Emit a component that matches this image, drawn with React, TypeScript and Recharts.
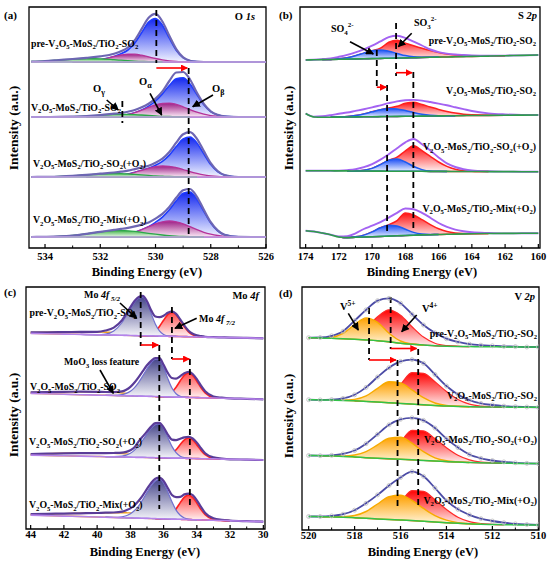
import React from 'react'
import { ComposedChart, Area, Line, XAxis, YAxis, ReferenceLine, ReferenceArea } from 'recharts'

const serif = '"Liberation Serif", "Times New Roman", serif'

// heights are in plot pixels above each spectrum's baseline

// (a) O 1s
const aX = [534.5, 534, 533.5, 533, 532.5, 532, 531.5, 531.25, 531, 530.75, 530.5, 530.25, 530, 529.75, 529.5, 529.25, 529, 528.75, 528.5, 528.25, 528, 527.75, 527.5, 527, 526.5, 526]
const aBase = [186, 131, 71, 11]
const aBlue = [
  [0, 0, 0, 0, 0.6, 2.3, 5.5, 8.2, 12, 19, 29.5, 39.9, 43.5, 36.8, 23.8, 11.7, 4.3, 1.2, 0.3, 0, 0, 0, 0, 0, 0, 0],
  [0, 0, 0, 0, 0, 0.1, 0.6, 1.2, 2.5, 4.3, 7.1, 10.9, 16, 23.1, 31.5, 38.2, 39.2, 33, 22.4, 12.2, 5.3, 2, 0.6, 0, 0, 0],
  [0, 0, 0, 0, 0, 0.2, 0.9, 1.7, 2.9, 4.7, 6.7, 8.7, 11.8, 15.7, 21.9, 30.4, 38, 40, 34.1, 23.1, 12.4, 5.3, 1.8, 0, 0, 0],
  [0, 0, 0, 0, 0, 0.1, 0.7, 1.5, 2.8, 4.7, 7.3, 10.3, 14.7, 19.9, 27.2, 36.2, 43.7, 45, 37.8, 25.7, 14, 6.2, 2.2, 0.1, 0, 0],
]
const aMag = [
  [0, 0, 0, 0, 0.6, 2.3, 5.5, 7, 7.9, 7.8, 6.8, 5.2, 3.5, 2.1, 1.1, 0.5, 0.2, 0, 0, 0, 0, 0, 0, 0, 0, 0],
  [0, 0, 0, 0, 0, 0.1, 0.6, 1.2, 2.5, 4.3, 6.8, 9.6, 12.1, 13.7, 13.9, 12.6, 10.2, 7.4, 4.8, 2.8, 1.4, 0.7, 0.3, 0, 0, 0],
  [0, 0, 0, 0, 0, 0.2, 0.9, 1.7, 2.9, 4.7, 6.7, 8.7, 10.3, 11, 10.7, 9.4, 7.5, 5.4, 3.6, 2.1, 1.2, 0.6, 0.3, 0, 0, 0],
  [0, 0, 0, 0, 0, 0.1, 0.7, 1.5, 2.8, 4.7, 7.3, 10.3, 13.2, 15.2, 16, 15.2, 13.2, 10.3, 7.3, 4.7, 2.8, 1.5, 0.7, 0.1, 0, 0],
]
const aGreen = [
  [0.5, 1, 2, 2.9, 3.5, 3.2, 2.3, 1.8, 1.3, 0.9, 0.6, 0.3, 0.2, 0, 0, 0, 0, 0, 0, 0, 0, 0, 0, 0, 0, 0],
  [0, 0, 0.1, 0.4, 0.9, 1.8, 2.6, 2.7, 2.6, 2.4, 2, 1.5, 1.1, 0.7, 0.5, 0.3, 0.1, 0, 0, 0, 0, 0, 0, 0, 0, 0],
  [0, 0.2, 0.5, 1.1, 2.1, 3.1, 3.5, 3.4, 3.1, 2.6, 2.1, 1.6, 1.1, 0.8, 0.5, 0.3, 0.2, 0.1, 0, 0, 0, 0, 0, 0, 0, 0],
  [0, 0.2, 0.6, 1.5, 3.2, 5.1, 6.4, 6.5, 6.2, 5.6, 4.7, 3.7, 2.8, 2, 1.3, 0.8, 0.5, 0.3, 0.1, 0, 0, 0, 0, 0, 0, 0],
]
const aEnv = [
  [0.5, 1, 2, 3, 4.2, 5.7, 8.3, 10.8, 14.5, 21.8, 33.1, 44.2, 48.1, 40.5, 26.2, 12.9, 4.7, 1.3, 0.3, 0, 0, 0, 0, 0, 0, 0],
  [0, 0, 0.1, 0.4, 0.9, 1.9, 3.3, 4, 5.3, 7, 9.7, 13.3, 18.4, 25.6, 36, 44.5, 45, 37.5, 24.2, 13.2, 5.7, 2.2, 0.6, 0, 0, 0],
  [0, 0.2, 0.5, 1.1, 2.1, 3.3, 4.5, 5.3, 6.3, 7.9, 9.6, 11.3, 14.3, 18.4, 25, 34.3, 42.8, 44.9, 38.2, 25.9, 13.9, 6, 2, 0, 0, 0],
  [0, 0.2, 0.6, 1.5, 3.2, 5.2, 7.1, 8.1, 9.2, 10.6, 12.4, 14.6, 18.4, 23.1, 30.1, 39.2, 46.8, 48, 40.2, 27.2, 14.8, 6.6, 2.3, 0.1, 0, 0],
]
const aDash = [[529.97, 238, 185], [528.8, 180, 10], [531.2, 147, 125]]
const aArrow = [[529.97, 528.85, 180]]
const aMinor = [533, 531, 529, 527]

// (b) S 2p
const bX = [174, 173.5, 173, 172.5, 172, 171.5, 171, 170.5, 170, 169.5, 169, 168.5, 168, 167.5, 167, 166.5, 166, 165.5, 165, 164.5, 164, 163, 162, 161, 160]
const bBase = [
  [188, 188.2, 188.4, 188.5, 188.7, 188.9, 189.1, 189.3, 189.4, 189.6, 189.8, 190, 190.1, 190.3, 190.5, 190.7, 190.9, 191, 191.2, 191.4, 191.6, 191.9, 192.3, 192.6, 193],
  [134.5, 131, 130.7, 130.8, 130.9, 131, 131.1, 131.2, 131.3, 131.4, 131.5, 131.6, 131.7, 131.8, 131.9, 132, 132.1, 132.2, 132.3, 132.4, 132.5, 132.6, 132.8, 132.9, 133],
  [77.3, 77.3, 77.2, 77.2, 77.1, 77.1, 77, 77, 76.9, 76.9, 76.8, 76.8, 76.7, 76.7, 76.7, 76.6, 76.6, 76.6, 76.5, 76.5, 76.5, 76.4, 76.4, 76.3, 76.3],
  [17.3, 16.5, 15, 13.3, 11, 10.4, 10.7, 11, 11.3, 11.6, 11.9, 12.2, 12.5, 12.8, 13.1, 13.3, 13.5, 13.7, 13.9, 14.1, 14.3, 14.5, 14.6, 14.7, 14.8],
]
const bRed = [
  [0, 0, 0, 0.1, 0.5, 1.4, 3.2, 5.6, 7.9, 10.2, 15.9, 17.8, 14.8, 11.9, 9.2, 6.8, 4.7, 3, 1.8, 1, 0.5, 0.1, 0, 0, 0],
  [0, 0, 0, 0, 0.2, 0.5, 1.3, 2.8, 4.9, 6.9, 8.5, 10.1, 13.1, 14, 11.6, 9, 6.5, 4.4, 2.6, 1.4, 0.7, 0.1, 0, 0, 0],
  [0, 0, 0, 0, 0, 0, 0.1, 0.7, 2.7, 6.5, 10.9, 14, 20.5, 25.6, 20.7, 15, 9.4, 5, 2.2, 0.8, 0.3, 0, 0, 0, 0],
  [0, 0, 0, 0, 0, 0.1, 0.5, 1.9, 4.8, 8.6, 11.4, 15.2, 22.6, 20.2, 15.2, 10.1, 5.7, 2.7, 1.1, 0.4, 0.1, 0, 0, 0, 0],
]
const bBlue = [
  [0, 0, 0, 0.1, 0.5, 1.4, 3.2, 5.6, 7.8, 8.4, 7, 4.6, 2.3, 0.9, 0.3, 0.1, 0, 0, 0, 0, 0, 0, 0, 0, 0],
  [0, 0, 0, 0, 0.2, 0.5, 1.3, 2.8, 4.9, 6.9, 8, 7.5, 5.7, 3.6, 1.8, 0.7, 0.2, 0.1, 0, 0, 0, 0, 0, 0, 0],
  [0, 0, 0, 0, 0, 0, 0.1, 0.7, 2.7, 6.5, 10.9, 12.2, 9.3, 4.8, 1.7, 0.4, 0.1, 0, 0, 0, 0, 0, 0, 0, 0],
  [0, 0, 0, 0, 0, 0.1, 0.5, 1.9, 4.8, 8.6, 10.9, 9.8, 6.3, 2.8, 0.9, 0.2, 0, 0, 0, 0, 0, 0, 0, 0, 0],
]
const bEnv = [
  [0, 0, 0.3, 1, 2.5, 4.3, 6.5, 9.3, 13, 17, 21, 22.2, 20, 16, 12, 7.8, 5, 3.4, 2.3, 1.6, 1, 0.4, 0.1, 0, 0],
  [0, 0.3, 1, 2, 3.3, 4.5, 6, 7.5, 9.3, 11.3, 13.3, 15, 16, 16.3, 15.5, 14, 12.3, 10.5, 8.5, 6.5, 4.5, 2, 0.8, 0.2, 0],
  [0, 0, 0, 0, 0.3, 0.8, 1.8, 3.8, 7, 11.5, 17, 23, 29, 32.3, 27, 21, 14, 8, 4.5, 2.3, 1, 0.3, 0, 0, 0],
  [0, 0, 0, 0, 0.5, 1.5, 4, 8, 11, 14.3, 18.5, 23, 27, 26, 22, 17, 11.5, 7.5, 4.5, 2.7, 1.5, 0.5, 0, 0, 0],
]
const bDash = [[169.72, 198, 160], [168.56, 225, 172], [169.1, 163, 16], [167.52, 176, 16]]
const bArrow = [[168.56, 167.6, 175.3], [169.72, 169.15, 160.8]]
const bMinor = [173, 171, 169, 167, 165, 163, 161]

// (c) Mo 4f
const cX = [44, 43, 42, 41, 40, 39.5, 39, 38.5, 38.25, 38, 37.75, 37.5, 37.25, 37, 36.75, 36.5, 36.25, 36, 35.75, 35.5, 35.25, 35, 34.75, 34.5, 34.25, 34, 33.75, 33.5, 33, 32.5, 32, 31, 30]
const cBase = [
  [195.6, 195.2, 194.9, 194.6, 194.2, 194, 193.9, 193.7, 193.6, 193.5, 193.4, 193.3, 193.3, 193.2, 193.1, 193, 192.9, 192.8, 192.7, 192.6, 192.6, 192.5, 192.4, 192.3, 192.2, 192.1, 192, 191.9, 191.8, 191.6, 191.4, 191.1, 190.7],
  [135.6, 135.2, 134.7, 134.3, 133.9, 133.7, 133.5, 133.3, 133.2, 133.1, 133, 132.9, 132.8, 132.7, 132.6, 132.5, 132.3, 132.2, 132.1, 132, 131.9, 131.8, 131.7, 131.6, 131.5, 131.4, 131.3, 131.2, 131, 130.8, 130.6, 130.2, 129.7],
  [73.9, 73.5, 73.2, 72.9, 72.5, 72.3, 72.2, 72, 71.9, 71.8, 71.7, 71.6, 71.6, 71.5, 71.4, 71.3, 71.2, 71.1, 71, 70.9, 70.9, 70.8, 70.7, 70.6, 70.5, 70.4, 70.3, 70.2, 70.1, 69.9, 69.7, 69.4, 69],
  [13.9, 13.4, 12.9, 12.5, 12, 11.8, 11.5, 11.3, 11.2, 11.1, 11, 10.8, 10.7, 10.6, 10.5, 10.4, 10.2, 10.1, 10, 9.9, 9.8, 9.7, 9.6, 9.4, 9.3, 9.2, 9.1, 9, 8.7, 8.5, 8.3, 7.8, 7.3],
]
const cBlue = [
  [0, 0, 0, 0, 0.1, 0.9, 4.2, 12.8, 19.4, 26.6, 33.2, 37.6, 38.6, 32.9, 22.4, 12.1, 5.2, 1.8, 0.5, 0.1, 0, 0, 0, 0, 0, 0, 0, 0, 0, 0, 0, 0, 0],
  [0, 0, 0, 0, 0, 0, 0.2, 1.1, 2.4, 4.7, 8.4, 13.7, 20.4, 27.5, 33.6, 37.3, 37.2, 29.7, 18.5, 9, 3.4, 1, 0.2, 0, 0, 0, 0, 0, 0, 0, 0, 0, 0],
  [0, 0, 0, 0, 0, 0, 0.2, 0.9, 2, 4, 7.2, 11.7, 17.4, 23.7, 29.3, 33, 34, 29.3, 20.5, 11.7, 5.4, 2, 0.6, 0.1, 0, 0, 0, 0, 0, 0, 0, 0, 0],
  [0, 0, 0, 0, 0, 0, 0.1, 0.9, 2, 4.1, 7.5, 12.4, 18.8, 26, 32.8, 37.7, 39.5, 36, 27.3, 17.3, 9.1, 4, 1.4, 0.4, 0.1, 0, 0, 0, 0, 0, 0, 0, 0],
]
const cRed = [
  [0, 0, 0, 0, 0, 0, 0, 0, 0, 0, 0, 0, 0.2, 0.6, 1.9, 4.8, 9.7, 16, 21.7, 24, 21.7, 16, 9.7, 4.8, 1.9, 0.6, 0.2, 0, 0, 0, 0, 0, 0],
  [0, 0, 0, 0, 0, 0, 0, 0, 0, 0, 0, 0, 0, 0, 0, 0, 0.2, 0.6, 2, 4.9, 9.9, 16.4, 22.1, 24.5, 22.1, 16.4, 9.9, 4.9, 0.6, 0, 0, 0, 0],
  [0, 0, 0, 0, 0, 0, 0, 0, 0, 0, 0, 0, 0, 0, 0, 0, 0.2, 0.5, 1.6, 4.1, 8.3, 13.7, 18.5, 20.5, 18.5, 13.7, 8.3, 4.1, 0.5, 0, 0, 0, 0],
  [0, 0, 0, 0, 0, 0, 0, 0, 0, 0, 0, 0, 0, 0, 0, 0, 0.2, 0.8, 2.2, 5.3, 10.3, 16.7, 22.3, 24.5, 22.3, 16.7, 10.3, 5.3, 0.8, 0.1, 0, 0, 0],
]
const cLoss = [
  [1, 1.5, 2, 2.5, 2.8, 2.8, 2.7, 2.3, 2, 1.7, 1.4, 1.1, 0.8, 0.6, 0.4, 0.2, 0.1, 0, 0, 0, 0, 0, 0, 0, 0, 0, 0, 0, 0, 0, 0, 0, 0],
  [1, 1.8, 2.5, 3, 3.3, 3.3, 3.1, 2.7, 2.4, 2.1, 1.8, 1.5, 1.2, 0.9, 0.6, 0.4, 0.2, 0.1, 0, 0, 0, 0, 0, 0, 0, 0, 0, 0, 0, 0, 0, 0, 0],
  [1, 1.8, 2.5, 3, 3.4, 3.6, 3.6, 3.4, 3.2, 2.9, 2.5, 2.1, 1.7, 1.3, 0.9, 0.6, 0.3, 0.1, 0, 0, 0, 0, 0, 0, 0, 0, 0, 0, 0, 0, 0, 0, 0],
  [1, 1.8, 2.5, 3.2, 3.9, 4.3, 4.7, 5, 5, 5, 4.8, 4.4, 3.9, 3.3, 2.7, 2.1, 1.5, 1, 0.6, 0.3, 0.1, 0, 0, 0, 0, 0, 0, 0, 0, 0, 0, 0, 0],
]
const cEnv = [
  [1, 1.5, 2, 2.5, 3, 4.5, 7.5, 15.1, 21.4, 28.3, 34.6, 38.8, 39.8, 34.5, 25.5, 19.5, 19, 20.5, 23.5, 25, 22.5, 17, 11, 6, 3, 1.5, 0.8, 0.3, 0, 0, 0, 0, 0],
  [1, 1.8, 2.5, 3, 3.3, 3.3, 3.4, 4.3, 6, 9, 13.5, 19, 25, 31, 35.5, 38.5, 38.5, 32, 24, 19, 18.5, 21, 24, 25.5, 23.5, 18.5, 12, 6.5, 1.5, 0.5, 0, 0, 0],
  [1, 1.8, 2.5, 3, 3.4, 3.6, 3.8, 4.3, 5.2, 7, 10, 16, 21, 26, 31, 34.5, 35, 30.5, 23.5, 18.5, 18, 19.5, 21, 21.5, 20, 16, 10.5, 5.5, 1.5, 0.5, 0, 0, 0],
  [1, 1.8, 2.5, 3.2, 4, 4.5, 5, 6, 7.5, 9.5, 12.8, 17.5, 23, 29.5, 35.5, 39.8, 41.2, 38, 31, 24, 22, 22.5, 25, 26, 24.5, 19.5, 13, 7, 2, 0.7, 0.2, 0, 0],
]
const cDash = [[37.38, 237, 183], [35.5, 222, 170], [36.26, 184, 20], [34.42, 170, 20]]
const cArrow = [[37.38, 36.32, 184], [35.5, 34.45, 170]]
const cMinor = [43, 41, 39, 37, 35, 33, 31]

// (d) V 2p
const dX = [520, 519.5, 519, 518.5, 518, 517.5, 517, 516.5, 516, 515.5, 515, 514.5, 514, 513.5, 513, 512.5, 512, 511.5, 511, 510.5, 510]
const dBase = [
  [192.3, 192, 191.7, 191.3, 190.8, 190.1, 189.3, 188.2, 186.8, 185.8, 185, 184.2, 183.8, 183.6, 183.4, 183.3, 183.2, 183.1, 183.1, 183, 183],
  [130.3, 130.1, 129.9, 129.6, 129.2, 128.6, 128, 127.3, 126.6, 125.9, 125.2, 124.5, 124, 123.6, 123.3, 123.1, 123, 122.9, 122.8, 122.8, 122.7],
  [74.5, 74.3, 74, 73.6, 73, 72.3, 71.7, 71.2, 70.7, 70.2, 69.6, 69, 68.4, 67.9, 67.5, 67.2, 67, 66.8, 66.6, 66.5, 66.4],
  [13.5, 13.3, 13.1, 12.8, 12.3, 11.7, 11.1, 10.5, 10, 9.4, 8.7, 8, 7.3, 6.7, 6.2, 5.8, 5.5, 5.3, 5.1, 5, 4.9],
]
const dV4 = [
  [0, 0, 0.1, 0.6, 3.2, 11.2, 24, 32, 28, 17.5, 7.9, 2.5, 0.6, 0.1, 0, 0, 0, 0, 0, 0, 0],
  [0, 0, 0, 0, 0, 0.2, 1.4, 6.8, 19, 31.5, 31.5, 23.7, 14.4, 6.9, 2.6, 0.8, 0.2, 0, 0, 0, 0],
  [0, 0, 0, 0, 0, 0.2, 1.2, 6, 17.4, 29.5, 29.5, 22.4, 13.9, 6.9, 2.7, 0.8, 0.2, 0, 0, 0, 0],
  [0, 0, 0, 0, 0, 0.2, 1.2, 6.1, 17.7, 30, 30, 22.2, 13.2, 6.1, 2.2, 0.6, 0.1, 0, 0, 0, 0],
]
const dV5 = [
  [0, 0.1, 1.1, 5.3, 14.6, 22, 18.4, 8.6, 2.2, 0.3, 0, 0, 0, 0, 0, 0, 0, 0, 0, 0, 0],
  [0, 0, 0, 0.2, 1.4, 5.5, 13.7, 21, 20.5, 14.2, 7.1, 2.5, 0.6, 0.1, 0, 0, 0, 0, 0, 0, 0],
  [0, 0, 0.1, 0.4, 2, 6.1, 13.4, 20.6, 22, 16.6, 8.7, 3.2, 0.8, 0.2, 0, 0, 0, 0, 0, 0, 0],
  [0, 0, 0.1, 0.5, 2.2, 6.8, 14.9, 22.9, 24.7, 20.2, 12.9, 6.4, 2.5, 0.7, 0.2, 0, 0, 0, 0, 0, 0],
]
const dEnv = [
  [0, 0.5, 2.5, 7.5, 18.5, 30, 40, 43.5, 40, 30, 20, 13, 7.5, 4.5, 2.5, 1.5, 1, 0.5, 0.3, 0, 0],
  [0, 0, 0.5, 2, 6, 14, 25, 35, 42, 44.5, 41.5, 31, 20, 12, 6.5, 3.5, 2, 1, 0.5, 0.2, 0],
  [0, 0, 0.7, 2.5, 6.5, 14, 24, 34, 40, 42, 40, 33, 23, 14.5, 8, 4.5, 2.5, 1.3, 0.6, 0.2, 0],
  [0, 0.2, 1, 3, 7.5, 15, 24, 34, 42.5, 49, 45, 34, 22, 14, 9, 5.5, 3.5, 2, 1, 0.5, 0.2],
]
const dDash = [[517.37, 222, 170], [516.43, 233, 181], [516.13, 170, 22], [515.23, 181, 22]]
const dArrow = [[516.43, 515.3, 181.5], [517.37, 516.2, 170]]
const dMinor = [519, 517, 515, 513, 511]

const samples = ['pre-V2O5-MoS2/TiO2-SO2', 'V2O5-MoS2/TiO2-SO2', 'V2O5-MoS2/TiO2-SO2(+O2)', 'V2O5-MoS2/TiO2-Mix(+O2)']

type Row = Record<string, number | number[] | null>

function buildRows(xs: number[], bases: (number | number[])[], env: number[][], comps: Record<string, number[][]>): Row[] {
  return xs.map((x, j) => {
    const row: Row = { x }
    bases.forEach((b, i) => {
      const base = Array.isArray(b) ? b[j] : b
      row['base' + i] = base
      row['env' + i] = base + env[i][j]
      Object.entries(comps).forEach(([name, arr]) => {
        const h = arr[i]
        const live = h[j] > 0 || (h[j - 1] ?? 0) > 0 || (h[j + 1] ?? 0) > 0
        row[name + i] = live ? [base, base + h[j]] : null
      })
    })
    return row
  })
}

type Layer = { key: string; stroke: string; sw: number; fill: string }
type Cfg = {
  left: number; top: number; width: number; height: number
  ml: number; mr: number; mt: number; axisH: number; tickMargin: number
  domain: [number, number]; ticks: number[]; minor: number[]; yMax: number
  rows: Row[]; layers: Layer[]
  env: [string, number]; base: [string, number]; raw?: boolean
  dashes: number[][]; arrows: number[][]
}

function Panel({ c }: { c: Cfg }) {
  const idx = [0, 1, 2, 3]
  return (
    <div style={{ position: 'absolute', left: c.left, top: c.top }}>
      <ComposedChart width={c.width} height={c.height} data={c.rows}
        margin={{ top: c.mt, left: c.ml, right: c.mr, bottom: 0 }}>
        <XAxis dataKey="x" type="number" domain={c.domain} reversed allowDataOverflow ticks={c.ticks}
          interval={0} height={c.axisH} axisLine={false} tickSize={-4} tickMargin={c.tickMargin}
          tickLine={{ stroke: '#000', strokeWidth: 1.2 }}
          tick={{ fill: '#000', fontSize: 10.5, fontWeight: 'bold', fontFamily: serif }} />
        <YAxis hide type="number" domain={[0, c.yMax]} allowDataOverflow />
        {idx.flatMap(i => c.layers.map(l => (
          <Area key={l.key + i} dataKey={l.key + i} type="monotone" stroke={l.stroke} strokeWidth={l.sw}
            fill={l.fill} fillOpacity={1} dot={false} activeDot={false} isAnimationActive={false} />
        )))}
        {c.raw && idx.map(i => (
          <Line key={'raw' + i} dataKey={'env' + i} stroke="none" isAnimationActive={false} activeDot={false}
            dot={{ r: 2, stroke: '#bdbdbd', strokeWidth: 0.8, fill: 'none' }} />
        ))}
        {idx.map(i => (
          <Line key={'env' + i} dataKey={'env' + i} type="monotone" stroke={c.env[0]} strokeWidth={c.env[1]}
            dot={false} activeDot={false} isAnimationActive={false} />
        ))}
        {idx.map(i => (
          <Line key={'base' + i} dataKey={'base' + i} type="monotone" stroke={c.base[0]} strokeWidth={c.base[1]}
            dot={false} activeDot={false} isAnimationActive={false} />
        ))}
        {c.dashes.map(([x, y1, y2], k) => (
          <ReferenceLine key={'d' + k} segment={[{ x, y: y1 }, { x, y: y2 }]} stroke="#000" strokeWidth={1.8} strokeDasharray="6 4" />
        ))}
        {c.arrows.map(([x1, x2, y], k) => (
          <ReferenceLine key={'a' + k} segment={[{ x: x1, y }, { x: x2, y }]}
            shape={(p: any) => <line x1={p.x1} y1={p.y1} x2={p.x2} y2={p.y2} stroke="#f00" strokeWidth={1.6} markerEnd="url(#arrRed)" />} />
        ))}
        {c.minor.map((x, k) => (
          <ReferenceLine key={'m' + k} segment={[{ x, y: 0 }, { x, y: 2.5 }]} stroke="#000" strokeWidth={1} />
        ))}
        <ReferenceArea x1={c.domain[0]} x2={c.domain[1]} y1={0} y2={c.yMax} fill="none" stroke="#000" strokeWidth={1.3} />
      </ComposedChart>
    </div>
  )
}

function Chem({ x, y, s, anchor = 'start', size = 9.8 }: { x: number; y: number; s: string; anchor?: 'start' | 'end'; size?: number }) {
  const parts = s.split(/(\d+)/).filter(Boolean)
  const sh = size * 0.28
  let down = false
  return (
    <text x={x} y={y} textAnchor={anchor} fontFamily={serif} fontWeight="bold" fontSize={size}>
      {parts.map((p, i) => {
        const num = /^\d+$/.test(p)
        const dy = num === down ? 0 : num ? sh : -sh
        down = num
        return <tspan key={i} dy={dy} fontSize={num ? size * 0.68 : size}>{p}</tspan>
      })}
    </text>
  )
}

const B = { fontFamily: serif, fontWeight: 'bold' as const }

function Overlay() {
  const arrows = [
    [106.7, 100, 118.3, 110], [150, 93.3, 161.7, 115], [213, 95, 192.7, 106.7],
    [350, 41.7, 373.3, 54], [411.7, 33.3, 398.3, 46.7],
    [120, 303, 136.7, 318.3], [196.7, 318.3, 175, 328.3], [100, 370, 113.3, 393.3],
    [348.3, 313.3, 358.3, 330], [416.7, 315, 401.7, 331.7],
  ]
  const aLab: [number, number][] = [[31, 46.5], [31, 110.5], [33, 166.5], [33, 223]]
  const bLab = [43.5, 93.5, 150, 211.5]
  const cLab: [number, number][] = [[29.5, 316], [30, 390], [29, 445], [29, 508]]
  const dLab = [336.5, 398.5, 442.5, 503.5]
  return (
    <svg width={550} height={567} style={{ position: 'absolute', left: 0, top: 0, pointerEvents: 'none' }}>
      {arrows.map(([x1, y1, x2, y2], k) => (
        <line key={k} x1={x1} y1={y1} x2={x2} y2={y2} stroke="#000" strokeWidth={1.6} markerEnd="url(#arrBlack)" />
      ))}
      {aLab.map(([x, y], i) => <Chem key={'a' + i} x={x} y={y} s={samples[i]} />)}
      {bLab.map((y, i) => <Chem key={'b' + i} x={536} y={y} s={samples[i]} anchor="end" />)}
      {cLab.map(([x, y], i) => <Chem key={'c' + i} x={x} y={y} s={samples[i]} />)}
      {dLab.map((y, i) => <Chem key={'d' + i} x={537} y={y} s={samples[i]} anchor="end" />)}

      <text x={4} y={19} fontSize={11} {...B}>(a)</text>
      <text x={279} y={19} fontSize={11} {...B}>(b)</text>
      <text x={4} y={296} fontSize={11} {...B}>(c)</text>
      <text x={279} y={297} fontSize={11} {...B}>(d)</text>

      <text x={255} y={20} fontSize={10.5} textAnchor="end" {...B}>O <tspan fontStyle="italic">1s</tspan></text>
      <text x={537} y={19} fontSize={10.5} textAnchor="end" {...B}>S <tspan fontStyle="italic">2p</tspan></text>
      <text x={259} y={299} fontSize={10.5} textAnchor="end" {...B}>Mo <tspan fontStyle="italic">4f</tspan></text>
      <text x={535} y={300} fontSize={10.5} textAnchor="end" {...B}>V <tspan fontStyle="italic">2p</tspan></text>

      <text x={93} y={92} fontSize={10.5} {...B}>O<tspan dy={3} fontSize={8}>γ</tspan></text>
      <text x={139} y={85} fontSize={10.5} {...B}>O<tspan dy={3} fontSize={8}>α</tspan></text>
      <text x={212} y={92} fontSize={10.5} {...B}>O<tspan dy={3} fontSize={8}>β</tspan></text>
      <text x={331} y={32} fontSize={10} {...B}>SO<tspan dy={2.5} fontSize={7}>4</tspan><tspan dy={-7.5} fontSize={7}>2-</tspan></text>
      <text x={414} y={26} fontSize={10} {...B}>SO<tspan dy={2.5} fontSize={7}>3</tspan><tspan dy={-7.5} fontSize={7}>2-</tspan></text>
      <text x={84} y={298} fontSize={10} {...B}>Mo <tspan fontStyle="italic">4f</tspan><tspan dy={2.5} fontSize={7} fontStyle="italic"> 5/2</tspan></text>
      <text x={199} y={322} fontSize={10} {...B}>Mo <tspan fontStyle="italic">4f</tspan><tspan dy={2.5} fontSize={7} fontStyle="italic"> 7/2</tspan></text>
      <text x={64} y={365} fontSize={9.8} {...B}>MoO<tspan dy={2.5} fontSize={7}>3</tspan><tspan dy={-2.5}> loss feature</tspan></text>
      <text x={340} y={310} fontSize={10.5} {...B}>V<tspan dy={-4.5} fontSize={7.5}>5+</tspan></text>
      <text x={422} y={312} fontSize={10.5} {...B}>V<tspan dy={-4.5} fontSize={7.5}>4+</tspan></text>

      {[[13, 128], [288, 128], [13, 415], [288, 416]].map(([x, y], k) => (
        <text key={'i' + k} x={x} y={y} fontSize={13.5} textAnchor="middle" dominantBaseline="central"
          transform={`rotate(-90 ${x} ${y})`} {...B}>Intensity (a.u.)</text>
      ))}
      {[[147, 276], [422, 276], [145, 556], [423, 556]].map(([x, y], k) => (
        <text key={'t' + k} x={x} y={y} fontSize={12.5} textAnchor="middle" {...B}>Binding Energy (eV)</text>
      ))}
    </svg>
  )
}

function grad(id: string, top: string, bottom: string) {
  return (
    <linearGradient key={id} id={id} x1="0" y1="0" x2="0" y2="1">
      <stop offset="0%" stopColor={top} />
      <stop offset="100%" stopColor={bottom} />
    </linearGradient>
  )
}

export default function App() {
  const panels: Cfg[] = [
    {
      left: 0, top: 0, width: 275, height: 280, ml: 29, mr: 9, mt: 7, axisH: 32, tickMargin: 9,
      domain: [526, 534.58], ticks: [534, 532, 530, 528, 526], minor: aMinor, yMax: 241,
      rows: buildRows(aX, aBase, aEnv, { blue: aBlue, mag: aMag, green: aGreen }),
      layers: [
        { key: 'blue', stroke: '#1f3cff', sw: 1.6, fill: 'url(#gBlueA)' },
        { key: 'mag', stroke: '#b53299', sw: 1.3, fill: 'url(#gMagA)' },
        { key: 'green', stroke: '#2ca64a', sw: 1.3, fill: 'url(#gGreenA)' },
      ],
      env: ['#6d66b3', 2.2], base: ['#c6a6e6', 1.6], dashes: aDash, arrows: aArrow,
    },
    {
      left: 275, top: 0, width: 275, height: 280, ml: 25, mr: 10, mt: 7, axisH: 32, tickMargin: 9,
      domain: [159.9, 174.34], ticks: [174, 172, 170, 168, 166, 164, 162, 160], minor: bMinor, yMax: 241,
      rows: buildRows(bX, bBase, bEnv, { red: bRed, blue: bBlue }),
      layers: [
        { key: 'red', stroke: '#ff2020', sw: 1.5, fill: 'url(#gRedB)' },
        { key: 'blue', stroke: '#1e5bf0', sw: 1.5, fill: 'url(#gBlueB)' },
      ],
      env: ['#a463f2', 1.9], base: ['#2e9e4a', 1.6], dashes: bDash, arrows: bArrow,
    },
    {
      left: 0, top: 280, width: 275, height: 287, ml: 26, mr: 10, mt: 7, axisH: 38, tickMargin: 6,
      domain: [29.9, 44.28], ticks: [44, 42, 40, 38, 36, 34, 32, 30], minor: cMinor, yMax: 242,
      rows: buildRows(cX, cBase, cEnv, { loss: cLoss, red: cRed, blue: cBlue }),
      layers: [
        { key: 'loss', stroke: '#f0a020', sw: 1.4, fill: 'none' },
        { key: 'red', stroke: '#ff2020', sw: 1.6, fill: 'url(#gRedC)' },
        { key: 'blue', stroke: '#7070d0', sw: 1.2, fill: 'url(#gBlueC)' },
      ],
      env: ['#5a3c98', 2.2], base: ['#b683ea', 1.6], dashes: cDash, arrows: cArrow,
    },
    {
      left: 275, top: 280, width: 275, height: 287, ml: 27, mr: 11, mt: 7, axisH: 37, tickMargin: 5.5,
      domain: [509.97, 520.29], ticks: [520, 518, 516, 514, 512, 510], minor: dMinor, yMax: 243,
      rows: buildRows(dX, dBase, dEnv, { v4: dV4, v5: dV5 }),
      layers: [
        { key: 'v4', stroke: '#ff2a2a', sw: 1.2, fill: 'url(#gRedD)' },
        { key: 'v5', stroke: '#f7ab00', sw: 1.4, fill: 'url(#gOrgD)' },
      ],
      env: ['#4c4ca6', 1.8], base: ['#33c24a', 1.5], raw: true, dashes: dDash, arrows: dArrow,
    },
  ]
  return (
    <div style={{ position: 'absolute', left: 0, top: 0, width: 550, height: 567, background: '#fff' }}>
      <svg width={0} height={0} style={{ position: 'absolute' }}>
        <defs>
          {grad('gBlueA', '#1428f0', '#f2f4ff')}
          {grad('gMagA', '#9c1f86', '#fbeaf6')}
          {grad('gGreenA', '#43b54a', '#eef8ee')}
          {grad('gRedB', '#ff1010', '#fff2f2')}
          {grad('gBlueB', '#1d4ff5', '#eef3ff')}
          {grad('gBlueC', '#45458a', '#f6f6fb')}
          {grad('gRedC', '#ff4a4a', '#fff5f5')}
          {grad('gOrgD', '#ffa000', '#fff7e0')}
          {grad('gRedD', '#ff0000', '#fff2f2')}
          <marker id="arrRed" viewBox="0 0 10 10" refX="9" refY="5" markerWidth="7" markerHeight="7" markerUnits="userSpaceOnUse" orient="auto">
            <path d="M0,0 L10,5 L0,10 z" fill="#f00" />
          </marker>
          <marker id="arrBlack" viewBox="0 0 10 10" refX="9" refY="5" markerWidth="8" markerHeight="8" markerUnits="userSpaceOnUse" orient="auto">
            <path d="M0,0 L10,5 L0,10 z" fill="#000" />
          </marker>
        </defs>
      </svg>
      {panels.map((c, k) => <Panel key={k} c={c} />)}
      <Overlay />
    </div>
  )
}
